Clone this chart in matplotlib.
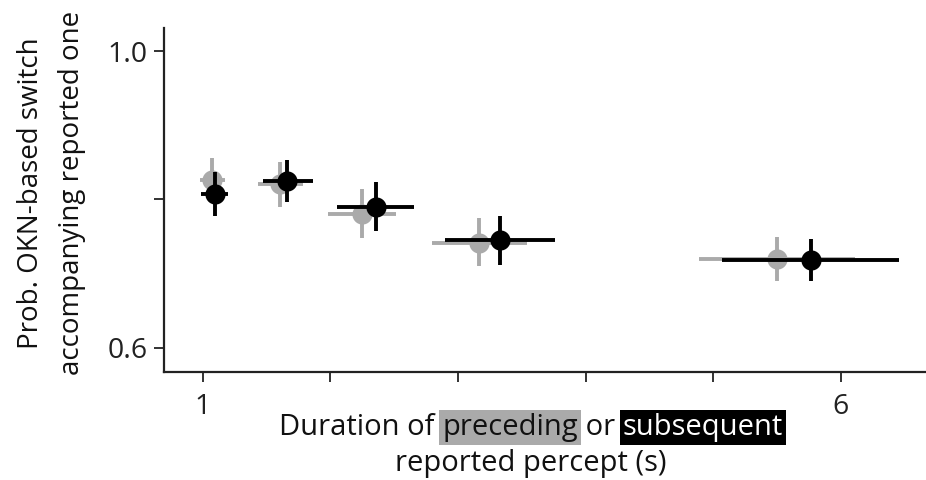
import matplotlib
matplotlib.use("Agg")
import matplotlib.pyplot as plt
import numpy as np

plt.rcParams["font.family"] = ["Open Sans", "DejaVu Sans"]

# Mean duration (s) and switch probability, with asymmetric error extents
pre_x = [1.075, 1.606, 2.246, 3.168, 5.498]
pre_x_lo = [0.98, 1.436, 1.984, 2.795, 4.889]
pre_x_hi = [1.175, 1.784, 2.515, 3.544, 6.111]
pre_y = [0.826, 0.821, 0.781, 0.742, 0.7195]
pre_y_lo = [0.796, 0.790, 0.748, 0.710, 0.690]
pre_y_hi = [0.856, 0.851, 0.814, 0.775, 0.749]

sub_x = [1.096, 1.663, 2.356, 3.330, 5.765]
sub_x_lo = [0.99, 1.475, 2.055, 2.900, 5.067]
sub_x_hi = [1.196, 1.862, 2.656, 3.761, 6.457]
sub_y = [0.808, 0.825, 0.790, 0.746, 0.7185]
sub_y_lo = [0.778, 0.797, 0.757, 0.712, 0.690]
sub_y_hi = [0.837, 0.853, 0.823, 0.778, 0.747]

x_ticks = [1, 2, 3, 4, 5, 6]
x_tick_labels = ["1", "", "", "", "", "6"]
y_ticks = [0.6, 0.8, 1.0]
y_tick_labels = ["0.6", "", "1.0"]

GRAY = "#aaaaaa"
W, H = 926, 480

fig = plt.figure(figsize=(W / 100, H / 100), dpi=100)
ax = fig.add_axes([164 / W, 1 - 371.7 / H, (W - 164) / W, (371.7 - 28) / H])


def draw_series(x, xlo, xhi, y, ylo, yhi, color, z):
    x = np.asarray(x); y = np.asarray(y)
    xerr = [x - np.asarray(xlo), np.asarray(xhi) - x]
    yerr = [y - np.asarray(ylo), np.asarray(yhi) - y]
    ax.errorbar(x, y, xerr=xerr, yerr=yerr, fmt="o", color=color,
                ms=14.5, mec="none", elinewidth=2.8, capsize=0, zorder=z)


draw_series(pre_x, pre_x_lo, pre_x_hi, pre_y, pre_y_lo, pre_y_hi, GRAY, 2)
draw_series(sub_x, sub_x_lo, sub_x_hi, sub_y, sub_y_lo, sub_y_hi, "black", 3)

ax.set_xlim(0.697, 6.668)
ax.set_ylim(0.568, 1.031)
ax.set_xticks(x_ticks)
ax.set_xticklabels(x_tick_labels)
ax.set_yticks(y_ticks)
ax.set_yticklabels(y_tick_labels)
for s in ("top", "right"):
    ax.spines[s].set_visible(False)
for s in ("left", "bottom"):
    ax.spines[s].set_linewidth(1.6)
    ax.spines[s].set_color("#222222")
ax.tick_params(direction="out", length=7, width=1.3, labelsize=20.5,
               colors="#222222", pad=5)
ax.tick_params(axis="x", pad=8)

ax.set_ylabel("Prob. OKN-based switch\naccompanying reported one",
              fontsize=20, linespacing=1.6, color="#111111")
ax.yaxis.set_label_coords((86 - 164) / (W - 164), (371.7 - 193) / (371.7 - 28))

# Composite x-axis label with highlighted words
renderer = fig.canvas.get_renderer()
FS = 21


def width(s):
    t = fig.text(0, 0, s, fontsize=FS)
    w = t.get_window_extent(renderer).width
    t.remove()
    return w


def px_text(x, y, s, **kw):
    return fig.text(x / W, 1 - y / H, s, fontsize=FS, ha="left",
                    va="baseline", **kw)


pieces = [("Duration of ", "#111111", None),
          ("preceding", "#111111", GRAY),
          (" or ", "#111111", None),
          ("subsequent", "white", "black")]
line1 = "".join(p[0] for p in pieces)
center_x = 531
x0 = center_x - width(line1) / 2
bar_w = width("|")
prefix = ""
for s, col, bg in pieces:
    xs = x0 + (width(prefix + "|") - bar_w if prefix else 0)
    kw = {}
    if bg is not None:
        kw["bbox"] = dict(boxstyle="square,pad=0.1", fc=bg, ec="none")
    px_text(xs, 435, s.strip() if bg else s, color=col, **kw)
    prefix += s

fig.text(center_x / W, 1 - 471.5 / H, "reported percept (s)", fontsize=FS,
         ha="center", va="baseline", color="#111111")

fig.savefig("out.png", dpi=100)
